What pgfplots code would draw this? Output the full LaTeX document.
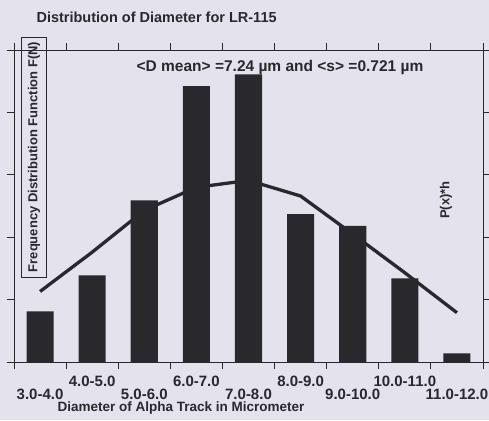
\documentclass[border=0pt]{standalone}
\usepackage{pgfplots}
\pgfplotsset{compat=1.18}
\usepackage{fontspec}
\setmainfont{Liberation Sans}
\definecolor{bg}{HTML}{E4E2EC}
\definecolor{ink}{HTML}{28282D}
\begin{document}
\begin{tikzpicture}[x=1pt,y=1pt]
\fill[bg] (0,0) rectangle (489,420);
\path[use as bounding box] (0,0) rectangle (489,420);
\begin{axis}[
  at={(14pt,58pt)}, anchor=south west, scale only axis,
  width=469pt, height=312pt,
  xmin=-0.5, xmax=8.5, ymin=0, ymax=5,
  xtick={-0.5,0.5,1.5,2.5,3.5,4.5,5.5,6.5,7.5,8.5}, xticklabels={},
  ytick={0,1,2,3,4,5}, yticklabels={},
  tick align=outside, major tick length=7pt,
  tick style={ink, line width=0.8pt},
  axis line style={ink, line width=0.8pt},
  clip=false,
]
\addplot[ybar, bar width=0.52, fill=ink, draw=none] coordinates {
  (0,0.81) (1,1.39) (2,2.59) (3,4.42) (4,4.61) (5,2.37) (6,2.18) (7,1.34) (8,0.14)};
\addplot[ink, line width=3.3pt, mark=none] coordinates {
  (0,1.13) (1,1.76) (2,2.43) (3,2.80) (4,2.91) (5,2.66) (6,2.05) (7,1.43) (8,0.79)};
\begin{scope}[every node/.style={font=\fontsize{15}{17}\selectfont\bfseries, text=ink}]
\node[yshift=-32pt] at (axis cs:0,0) {3.0-4.0};
\node[yshift=-19pt] at (axis cs:1,0) {4.0-5.0};
\node[yshift=-32pt] at (axis cs:2,0) {5.0-6.0};
\node[yshift=-19pt] at (axis cs:3,0) {6.0-7.0};
\node[yshift=-32pt] at (axis cs:4,0) {7.0-8.0};
\node[yshift=-19pt] at (axis cs:5,0) {8.0-9.0};
\node[yshift=-32pt] at (axis cs:6,0) {9.0-10.0};
\node[yshift=-19pt] at (axis cs:7,0) {10.0-11.0};
\node[yshift=-32pt] at (axis cs:8,0) {11.0-12.0};
\end{scope}
\end{axis}
\node[anchor=west, font=\fontsize{14.5}{16}\selectfont\bfseries, text=ink] at (33,403) {Distribution of Diameter for LR-115};
\node[font=\fontsize{15.5}{17}\selectfont\bfseries, text=ink] at (280,352) {<D mean> =7.24 µm and <s> =0.721 µm};
\node[font=\fontsize{13.5}{15}\selectfont\bfseries, text=ink] at (181,12) {Diameter of Alpha Track in Micrometer};
\node[draw=ink, line width=0.6pt, rotate=90, minimum width=240pt, minimum height=25pt, inner sep=1pt,
      font=\fontsize{13}{15}\selectfont\bfseries, text=ink] at (34,263) {Frequency Distribution Function F(N)};
\node[rotate=90, font=\fontsize{13}{15}\selectfont\bfseries, text=ink] at (446,220) {P(x)*h};
\end{tikzpicture}
\end{document}
